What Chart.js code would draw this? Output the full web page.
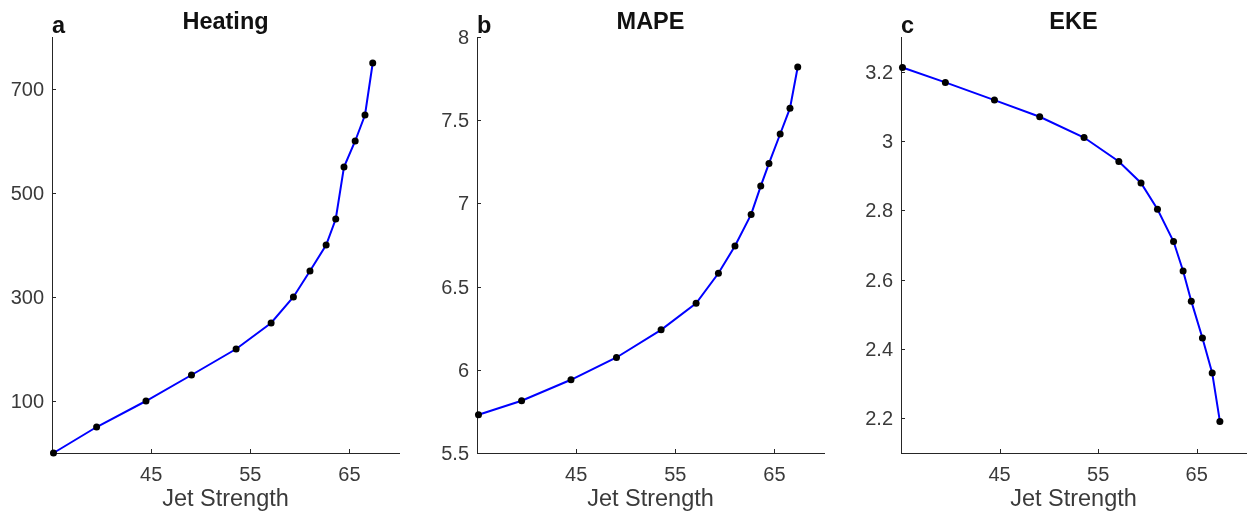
<!DOCTYPE html>
<html>
<head>
<meta charset="utf-8">
<script src="https://cdn.jsdelivr.net/npm/chart.js@4"></script>
<style>
  body { margin: 0; background: #fff; }
  .panel { position: absolute; top: 0; height: 514px; }
</style>
</head>
<body>
<div class="panel" id="pa" style="left:0;width:410px"><canvas id="chartA"></canvas></div>
<div class="panel" id="pb" style="left:420px;width:410px"><canvas id="chartB"></canvas></div>
<div class="panel" id="pc" style="left:840px;width:410px"><canvas id="chartC"></canvas></div>
<script>
// data
const jetStrength = [35.15, 39.5, 44.48, 49.07, 53.57, 57.1, 59.35, 61.02, 62.65, 63.62, 64.45, 65.58, 66.57, 67.35];
const heating = [0, 50, 100, 150, 200, 250, 300, 350, 400, 450, 550, 600, 650, 750];
const mape = [5.73, 5.814, 5.94, 6.074, 6.24, 6.40, 6.58, 6.744, 6.934, 7.104, 7.24, 7.417, 7.572, 7.82];
const eke = [3.212, 3.169, 3.118, 3.07, 3.01, 2.941, 2.879, 2.803, 2.71, 2.625, 2.538, 2.432, 2.331, 2.191];

const xTicks = [45, 55, 65];
const heatingTicks = [100, 300, 500, 700];
const mapeTicks = [5.5, 6, 6.5, 7, 7.5, 8];
const ekeTicks = [2.2, 2.4, 2.6, 2.8, 3, 3.2];

const FONT = '"Liberation Sans", Arial, Helvetica, sans-serif';
const axisColor = '#262626';
const labelColor = '#3a3a3a';

// titles, panel letters and inward tick marks (MATLAB style)
const decor = {
    id: 'decor',
    afterDraw(chart, args, opts) {
        const c = chart.ctx;
        const area = chart.chartArea;
        c.save();
        c.fillStyle = '#111';
        c.font = 'bold 23.5px ' + FONT;
        c.textAlign = 'center';
        c.textBaseline = 'alphabetic';
        c.fillText(opts.title, (area.left + area.right) / 2, 29);
        c.textAlign = 'left';
        c.fillText(opts.letter, area.left, 33);

        c.strokeStyle = axisColor;
        c.lineWidth = 1;
        const xs = chart.scales.x, ys = chart.scales.y;
        xs.ticks.forEach(t => {
            const px = Math.round(xs.getPixelForValue(t.value)) + 0.5;
            c.beginPath();
            c.moveTo(px, area.bottom);
            c.lineTo(px, area.bottom - 4);
            c.stroke();
        });
        ys.ticks.forEach(t => {
            const py = Math.round(ys.getPixelForValue(t.value)) + 0.5;
            c.beginPath();
            c.moveTo(area.left, py);
            c.lineTo(area.left + 4, py);
            c.stroke();
        });
        c.restore();
    }
};

function makeChart(id, values, yMin, yMax, yTicks, title, letter, yWidth, padRight) {
    const pts = jetStrength.map((x, i) => ({x: x, y: values[i]}));
    return new Chart(document.getElementById(id), {
        type: 'line',
        data: {
            datasets: [{
                data: pts,
                borderColor: '#0000ff',
                borderWidth: 2,
                pointRadius: 3.5,
                pointBackgroundColor: '#000',
                pointBorderColor: '#000',
                pointBorderWidth: 0,
                tension: 0,
                clip: false
            }]
        },
        options: {
            responsive: true,
            maintainAspectRatio: false,
            animation: false,
            layout: { padding: { top: 37, right: padRight, left: 0, bottom: 0 } },
            plugins: {
                legend: { display: false },
                tooltip: { enabled: false },
                decor: { title: title, letter: letter }
            },
            scales: {
                x: {
                    type: 'linear',
                    min: 35,
                    max: 70,
                    afterBuildTicks: s => { s.ticks = xTicks.map(v => ({value: v})); },
                    afterFit: s => { s.height = 61; },
                    grid: { display: true, drawOnChartArea: false, drawTicks: false },
                    border: { display: true, color: axisColor, width: 1 },
                    ticks: { padding: 10, color: labelColor, font: { family: FONT, size: 20 } },
                    title: {
                        display: true,
                        text: 'Jet Strength',
                        color: labelColor,
                        font: { family: FONT, size: 23.5 },
                        padding: { top: 0, bottom: 0 }
                    }
                },
                y: {
                    type: 'linear',
                    min: yMin,
                    max: yMax,
                    afterBuildTicks: s => { s.ticks = yTicks.map(v => ({value: v})); },
                    afterFit: s => { s.width = yWidth; },
                    grid: { display: true, drawOnChartArea: false, drawTicks: false },
                    border: { display: true, color: axisColor, width: 1 },
                    ticks: {
                        padding: 8,
                        labelOffset: 1.5,
                        color: labelColor,
                        font: { family: FONT, size: 20 },
                        callback: v => String(v)
                    }
                }
            }
        },
        plugins: [decor]
    });
}

makeChart('chartA', heating, 0, 800, heatingTicks, 'Heating', 'a', 52, 11);
makeChart('chartB', mape, 5.5, 8, mapeTicks, 'MAPE', 'b', 57, 6);
makeChart('chartC', eke, 2.1, 3.3, ekeTicks, 'EKE', 'c', 61, 3);
</script>
</body>
</html>
